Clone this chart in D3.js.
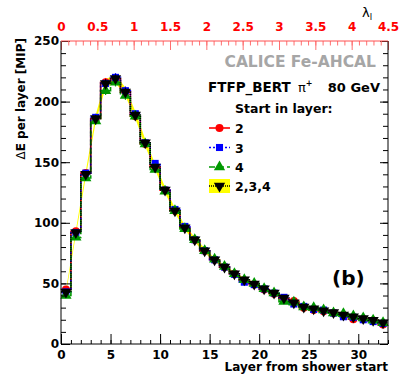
<!DOCTYPE html>
<meta charset="utf-8">
<title>Energy per layer</title>
<script src="https://d3js.org/d3.v7.min.js"></script>
<style>
  body { margin: 0; background: #fff; }
  text { font-family: "DejaVu Sans", sans-serif; font-weight: bold; }
</style>
<div id="chart"></div>
<script>
// layer of each bin (bin i spans i .. i+1 from shower start)
var layers = [0, 1, 2, 3, 4, 5, 6, 7, 8, 9, 10, 11, 12, 13, 14, 15, 16,
              17, 18, 19, 20, 21, 22, 23, 24, 25, 26, 27, 28, 29, 30, 31, 32];

// mean energy per layer [MIP], one list per "start in layer" sample
var start2 = [45, 93, 141, 186, 216, 219, 208, 188, 165, 146, 127, 110, 96, 86, 77, 69.5, 63.5,
              58, 52.5, 49, 45, 41.5, 37.5, 35.5, 30, 28, 27, 25.5, 24, 20.5, 20.5, 19.5, 16];
var start3 = [43, 92, 141, 187, 215, 220, 209, 190, 166, 149, 127, 111, 97, 86, 77, 69.5, 63.5,
              57.5, 51, 49, 45.5, 42, 38.5, 33, 31, 28.5, 28, 25.5, 22.5, 22, 20, 18.5, 17];
var start4 = [40, 88, 137, 184, 209, 216, 205, 188, 165, 144, 126, 110, 95, 86, 77, 70, 64,
              58, 53, 50, 45.5, 42, 35, 34.5, 30.5, 30, 28, 25.5, 25, 23, 21.5, 19.5, 17.5];
var start234 = [43, 92, 140, 186, 215, 219, 208, 189, 166, 146, 127, 110, 96, 86, 77, 69.5, 63.5,
                58, 53, 49.5, 45.5, 42, 38, 34, 30.5, 29, 27.5, 26, 24, 22.5, 21, 19.5, 17.5];
// statistical error per bin
var errs = [1.5, 2, 2.5, 3, 3.5, 3.5, 3.5, 3, 3, 2.5, 2.5, 2, 2, 2, 2, 1.5, 1.5,
            1.5, 1.5, 1.5, 1.5, 1.5, 1.5, 1.5, 1.5, 1.5, 1.5, 1.5, 1.5, 1.5, 1.5, 1.5, 1.5];

// axis ticks
var xMajor = [0, 5, 10, 15, 20, 25, 30];
var yMajor = [0, 50, 100, 150, 200, 250];
var lamMajor = [0, 0.5, 1, 1.5, 2, 2.5, 3, 3.5, 4, 4.5];

var W = 409, H = 392;
var svg = d3.select("#chart").append("svg")
    .attr("width", W).attr("height", H);

var x = d3.scaleLinear().domain([0, 33]).range([61, 388]);
var y = d3.scaleLinear().domain([0, 250]).range([344, 41]);
var lam = d3.scaleLinear().domain([0, 4.5]).range([61, 388]);

// yellow error band of the combined sample
svg.append("path")
    .datum(layers)
    .attr("fill", "#ffff00")
    .attr("d", d3.area()
        .x(function(i) { return x(i + 0.5); })
        .y0(function(i) { return y(start234[i] - errs[i]); })
        .y1(function(i) { return y(start234[i] + errs[i]); }));

var series = [
  {vals: start2, color: "#ff0000", dash: null, sym: d3.symbolCircle, size: 50, rot: 0},
  {vals: start3, color: "#0000ff", dash: "2,2", sym: d3.symbolSquare, size: 50, rot: 0},
  {vals: start4, color: "#009900", dash: "6,3", sym: d3.symbolTriangle, size: 55, rot: 0},
  {vals: start234, color: "#000000", dash: "1,1", sym: d3.symbolTriangle, size: 55, rot: 180}
];

var step = d3.line().curve(d3.curveStepAfter)
    .x(function(d) { return x(d[0]); })
    .y(function(d) { return y(d[1]); });

series.forEach(function(s) {
  var pts = layers.map(function(i) { return [i, s.vals[i]]; });
  pts.push([33, s.vals[s.vals.length - 1]]);
  svg.append("path")
      .attr("d", step(pts))
      .attr("fill", "none")
      .attr("stroke", s.color)
      .attr("stroke-width", 1.6)
      .attr("stroke-dasharray", s.dash);

  var g = svg.append("g");
  g.selectAll("line")
    .data(layers)
    .enter().append("line")
      .attr("x1", function(i) { return x(i + 0.5); })
      .attr("x2", function(i) { return x(i + 0.5); })
      .attr("y1", function(i) { return y(s.vals[i] - errs[i]); })
      .attr("y2", function(i) { return y(s.vals[i] + errs[i]); })
      .attr("stroke", s.color)
      .attr("stroke-width", 1.2);
  g.selectAll("path")
    .data(layers)
    .enter().append("path")
      .attr("d", d3.symbol().type(s.sym).size(s.size))
      .attr("transform", function(i) {
        return "translate(" + x(i + 0.5) + "," + y(s.vals[i]) + ") rotate(" + s.rot + ")";
      })
      .attr("fill", s.color);
});

// axes
function style(g, col, fs) {
  g.select(".domain").remove();
  g.selectAll("line").attr("stroke", col);
  g.selectAll("text").attr("fill", col).style("font-size", fs + "px");
}

svg.append("g").attr("transform", "translate(0,344)")
    .call(d3.axisBottom(x).tickValues(layers.concat([33])).tickSize(-4).tickFormat(""))
    .call(style, "#000", 12);
svg.append("g").attr("transform", "translate(0,344)")
    .call(d3.axisBottom(x).tickValues(xMajor).tickSize(-10).tickPadding(6))
    .call(style, "#000", 12);

svg.append("g").attr("transform", "translate(61,0)")
    .call(d3.axisLeft(y).ticks(25).tickSize(-5).tickFormat(""))
    .call(style, "#000", 12);
svg.append("g").attr("transform", "translate(61,0)")
    .call(d3.axisLeft(y).tickValues(yMajor).tickSize(-9).tickPadding(2))
    .call(style, "#000", 12);

svg.append("g").attr("transform", "translate(388,0)")
    .call(d3.axisRight(y).ticks(25).tickSize(-5).tickFormat(""))
    .call(style, "#000", 12);
svg.append("g").attr("transform", "translate(388,0)")
    .call(d3.axisRight(y).tickValues(yMajor).tickSize(-8).tickFormat(""))
    .call(style, "#000", 12);

svg.append("g").attr("transform", "translate(0,41)")
    .call(d3.axisTop(lam).ticks(45).tickSize(-4.5).tickFormat(""))
    .call(style, "#ff7070", 12);
var topMaj = svg.append("g").attr("transform", "translate(0,41)")
    .call(d3.axisTop(lam).tickValues(lamMajor).tickSize(-9).tickPadding(10).tickFormat(d3.format("")))
    .call(style, "#ff7070", 12);
topMaj.selectAll("text").attr("fill", "#ff0000");

// frame
svg.append("path")
    .attr("d", "M" + x(0) + "," + y(250) + "V" + y(0) + "H" + x(33) + "V" + y(250))
    .attr("fill", "none").attr("stroke", "#000").attr("stroke-width", 1);
svg.append("line")
    .attr("x1", x(0)).attr("x2", x(33)).attr("y1", y(250)).attr("y2", y(250))
    .attr("stroke", "#ff5050").attr("stroke-width", 1);

// axis titles
svg.append("text")
    .attr("x", 388).attr("y", 371)
    .attr("text-anchor", "end").style("font-size", "12px")
    .text("Layer from shower start");

var yl = svg.append("text")
    .attr("transform", "translate(25,38) rotate(-90)")
    .attr("text-anchor", "end").style("font-size", "12px");
yl.append("tspan").style("font-weight", "normal").text("\u0394");
yl.append("tspan").text("E per layer [MIP]");

var lt = svg.append("text").attr("x", 362).attr("y", 17)
    .style("font-size", "13px").style("font-weight", "normal");
lt.append("tspan").text("\u03bb");
lt.append("tspan").attr("dy", 3).style("font-size", "8px").text("I");

// labels
svg.append("text")
    .attr("x", 376).attr("y", 66.5)
    .attr("text-anchor", "end").attr("fill", "#a6a6a6").style("font-size", "15.5px")
    .text("CALICE Fe-AHCAL");

svg.append("text").attr("x", 208).attr("y", 91.5).style("font-size", "13.5px").text("FTFP_BERT");
var pi = svg.append("text").attr("x", 298).attr("y", 91.5).style("font-size", "13px")
    .style("font-weight", "normal");
pi.append("tspan").text("\u03c0");
pi.append("tspan").attr("dy", -6).style("font-size", "8px").style("font-weight", "bold").text("+");
svg.append("text").attr("x", 380).attr("y", 91.5).attr("text-anchor", "end")
    .style("font-size", "13px").text("80 GeV");
svg.append("text").attr("x", 235).attr("y", 112.5).style("font-size", "12.5px").text("Start in layer:");

svg.append("text").attr("x", 332).attr("y", 285).style("font-size", "20px").text("(b)");

// legend
var legNames = ["2", "3", "4", "2,3,4"];
var legY = [128, 147.5, 167, 186];
series.forEach(function(s, k) {
  var cy = legY[k];
  if (k === 3) {
    svg.append("rect").attr("x", 209).attr("y", cy - 7).attr("width", 21).attr("height", 14)
        .attr("fill", "#ffff00");
  }
  svg.append("line").attr("x1", 209).attr("x2", 230).attr("y1", cy).attr("y2", cy)
      .attr("stroke", s.color).attr("stroke-width", 1.6).attr("stroke-dasharray", s.dash);
  svg.append("path")
      .attr("d", d3.symbol().type(s.sym).size(s.size))
      .attr("transform", "translate(219.5," + cy + ") rotate(" + s.rot + ")")
      .attr("fill", s.color);
  svg.append("text").attr("x", 235).attr("y", cy + 5).style("font-size", "12.5px").text(legNames[k]);
});
</script>
